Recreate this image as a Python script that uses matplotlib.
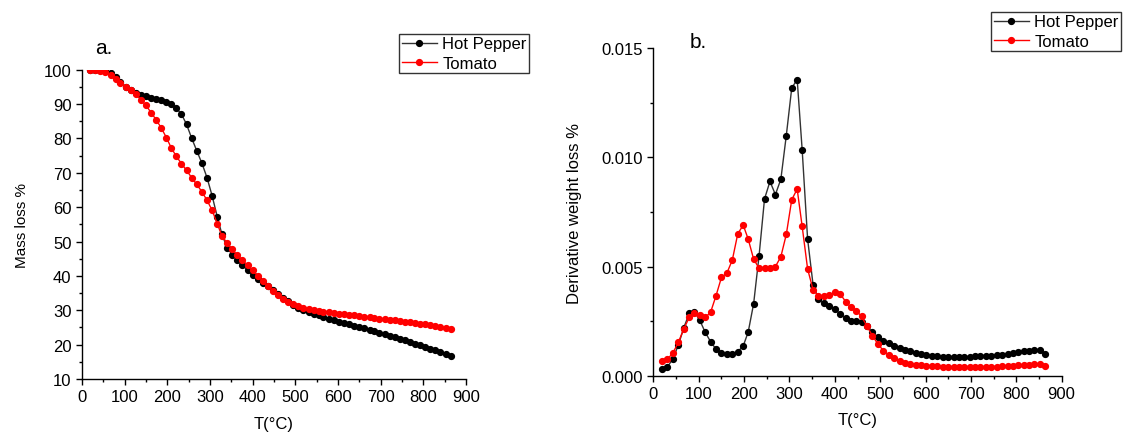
import matplotlib
matplotlib.use("Agg")
import matplotlib.pyplot as plt
from matplotlib.ticker import MultipleLocator

plt.rcParams["font.family"] = ["Liberation Sans", "DejaVu Sans"]

# Temperature grid (°C)
temps = [19, 31, 43, 55, 67, 79, 90, 102, 114, 126, 138, 150, 162, 174, 186, 198,
         209, 221, 233, 245, 257, 269, 281, 293, 305, 317, 328, 340, 352, 364, 376,
         388, 400, 412, 424, 436, 447, 459, 471, 483, 495, 507, 519, 531, 543, 555,
         566, 578, 590, 602, 614, 626, 638, 650, 662, 674, 685, 697, 709, 721, 733,
         745, 757, 769, 781, 793, 804, 816, 828, 840, 852, 864]

# Panel a: mass loss %
pepper_mass = [100, 100, 100, 99.8, 99.0, 97.8, 96.3, 95.1, 94.1, 93.3, 92.7, 92.3,
               91.9, 91.6, 91.3, 90.7, 90.0, 88.8, 87.1, 84.1, 80.1, 76.4, 72.8, 68.6,
               63.3, 57.2, 52.1, 48.2, 46.2, 44.5, 43.1, 41.7, 40.2, 39.0, 38.0, 37.0,
               35.9, 34.8, 33.7, 32.6, 31.6, 30.8, 30.2, 29.6, 29.0, 28.5, 28.0, 27.5,
               27.1, 26.7, 26.3, 25.9, 25.5, 25.1, 24.7, 24.3, 23.9, 23.5, 23.1, 22.6,
               22.2, 21.7, 21.3, 20.8, 20.3, 19.8, 19.3, 18.8, 18.3, 17.8, 17.3, 16.8]
tomato_mass = [100, 99.9, 99.7, 99.3, 98.5, 97.4, 96.2, 95.0, 94.0, 92.8, 91.3, 89.6,
               87.5, 85.4, 83.0, 80.2, 77.3, 74.8, 72.7, 70.7, 68.6, 66.6, 64.5, 62.0,
               59.1, 55.2, 51.6, 49.6, 47.7, 46.1, 44.6, 43.1, 41.6, 40.0, 38.5, 37.0,
               35.7, 34.4, 33.3, 32.4, 31.7, 31.1, 30.6, 30.3, 30.0, 29.8, 29.6, 29.4,
               29.2, 29.0, 28.8, 28.7, 28.5, 28.3, 28.1, 28.0, 27.8, 27.6, 27.4, 27.3,
               27.1, 26.9, 26.7, 26.5, 26.3, 26.1, 25.9, 25.7, 25.4, 25.1, 24.8, 24.5]

# Panel b: derivative weight loss %
pepper_dtg = [0.00031, 0.0004, 0.00078, 0.0014, 0.0022, 0.00285, 0.00293, 0.00255,
              0.0020, 0.00156, 0.00122, 0.00104, 0.00098, 0.00098, 0.0011, 0.00136,
              0.0020, 0.0033, 0.0055, 0.0081, 0.0089, 0.0083, 0.0090, 0.0110,
              0.01318, 0.01357, 0.01035, 0.00626, 0.00417, 0.00351, 0.00333, 0.0032,
              0.00305, 0.00282, 0.00264, 0.00252, 0.00252, 0.00247, 0.00226, 0.00198,
              0.00176, 0.0016, 0.00148, 0.00137, 0.00128, 0.00119, 0.00111, 0.00105,
              0.00098, 0.00093, 0.0009, 0.00088, 0.00087, 0.00086, 0.00086, 0.00085,
              0.00085, 0.00086, 0.0009, 0.00092, 0.00092, 0.00092, 0.00093, 0.00095,
              0.00098, 0.00103, 0.00108, 0.00111, 0.00114, 0.00117, 0.00119, 0.00099]
tomato_dtg = [0.00069, 0.00076, 0.00104, 0.00153, 0.00214, 0.00267, 0.00287, 0.00278,
              0.00267, 0.0029, 0.00366, 0.0045, 0.0047, 0.0053, 0.0065, 0.0069,
              0.00626, 0.00534, 0.00492, 0.00492, 0.00492, 0.005, 0.00545, 0.00647,
              0.00806, 0.00855, 0.00684, 0.00489, 0.00394, 0.00366, 0.00363, 0.0037,
              0.00382, 0.00374, 0.00339, 0.00313, 0.00298, 0.00272, 0.00226, 0.00183,
              0.00145, 0.00115, 0.00095, 0.00079, 0.00069, 0.00058, 0.00053, 0.0005,
              0.00049, 0.00046, 0.00044, 0.00043, 0.00042, 0.00042, 0.00041, 0.00041,
              0.00041, 0.00041, 0.00041, 0.00041, 0.00041, 0.00042, 0.00042, 0.00043,
              0.00044, 0.00045, 0.00047, 0.00049, 0.0005, 0.00052, 0.00055, 0.00046]

W, H = 1123, 435
fig = plt.figure(figsize=(W / 100, H / 100), dpi=100)
ax1 = fig.add_axes([82 / W, 1 - 380 / H, 384 / W, 309.3 / H])
ax2 = fig.add_axes([653.4 / W, 1 - 376.7 / H, 408.2 / W, 327.4 / H])

line_kw = dict(linewidth=1.0, marker="o", markersize=4.2)
leg_kw = dict(loc="upper left", fontsize=12, frameon=True, fancybox=False,
              edgecolor="black", borderpad=0.15, labelspacing=0.25,
              handlelength=2.1, handletextpad=0.35, borderaxespad=0)


def style(ax):
    for side in ["top", "right"]:
        ax.spines[side].set_visible(False)
    for side in ["left", "bottom"]:
        ax.spines[side].set_linewidth(1.0)
    ax.tick_params(which="major", direction="out", length=4, width=1.0, labelsize=12)
    ax.tick_params(which="minor", direction="out", length=2.5, width=1.0)
    ax.xaxis.set_major_locator(MultipleLocator(100))
    ax.xaxis.set_minor_locator(MultipleLocator(50))
    ax.set_xlim(0, 900)
    ax.set_xlabel("T(°C)", fontsize=12, labelpad=8)


# a.
ax1.plot(temps, pepper_mass, color="#333333", markerfacecolor="black",
         markeredgecolor="black", label="Hot Pepper", **line_kw)
ax1.plot(temps, tomato_mass, color="red", markerfacecolor="red",
         markeredgecolor="red", label="Tomato", **line_kw)
style(ax1)
ax1.set_ylim(10, 100)
ax1.yaxis.set_major_locator(MultipleLocator(10))
ax1.yaxis.set_minor_locator(MultipleLocator(5))
ax1.set_ylabel("Mass loss %", fontsize=11, labelpad=11)
fig.text(95 / W, 1 - 54 / H, "a.", fontsize=15)
h, l = ax1.get_legend_handles_labels()
fig.legend(h, l, bbox_to_anchor=(399 / W, 1 - 35 / H), **leg_kw)

# b.
ax2.plot(temps, pepper_dtg, color="#333333", markerfacecolor="black",
         markeredgecolor="black", label="Hot Pepper", **line_kw)
ax2.plot(temps, tomato_dtg, color="red", markerfacecolor="red",
         markeredgecolor="red", label="Tomato", **line_kw)
style(ax2)
ax2.set_ylim(0, 0.015)
ax2.yaxis.set_major_locator(MultipleLocator(0.005))
ax2.yaxis.set_minor_locator(MultipleLocator(0.0025))
ax2.yaxis.set_major_formatter(plt.FuncFormatter(lambda v, p: f"{v:.3f}"))
ax2.set_ylabel("Derivative weight loss %", fontsize=12, labelpad=14)
fig.text(690 / W, 1 - 48 / H, "b.", fontsize=15)
h, l = ax2.get_legend_handles_labels()
fig.legend(h, l, bbox_to_anchor=(991 / W, 1 - 13 / H), **leg_kw)

fig.savefig("out.png", dpi=100)
